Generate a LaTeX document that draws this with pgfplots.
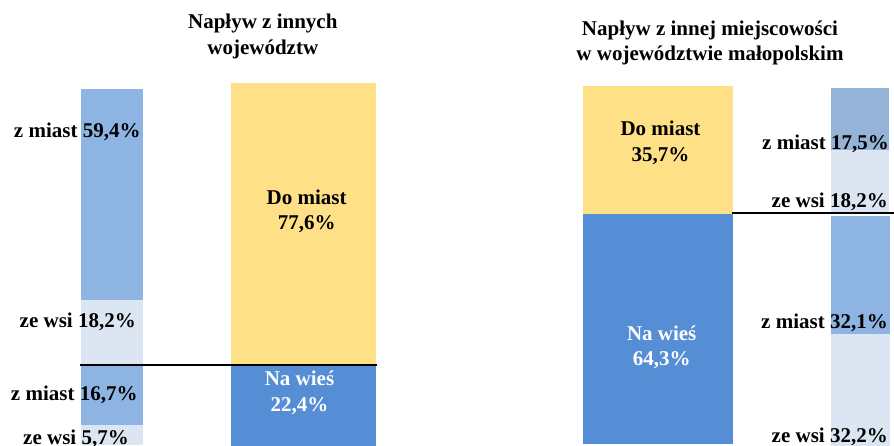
\documentclass[border=0pt]{standalone}
\usepackage{pgfplots}
\pgfplotsset{compat=1.18}
\usepackage{fontspec}
\setmainfont{Liberation Serif}

\definecolor{zolty}{HTML}{FEE086}
\definecolor{niebieski}{HTML}{558ED5}
\definecolor{zmiast}{HTML}{8EB4E3}
\definecolor{zmiastb}{HTML}{95B3D7}
\definecolor{zewsi}{HTML}{DCE6F2}

\pgfplotsset{
  slupek/.style={
    scale only axis, axis lines=none, ticks=none,
    anchor=south west, xmin=-0.5, xmax=0.5, ymin=0, ymax=100,
    ybar stacked, bar shift=0pt,
    every axis plot/.append style={draw=none},
  },
}

\begin{document}
\begin{tikzpicture}[x=1pt,y=1pt,
    lab/.style={inner sep=0pt, font=\bfseries\fontsize{21}{26}\selectfont}]

% lewy waski slupek: struktura naplywu z innych wojewodztw
\begin{axis}[slupek, at={(81pt,0pt)}, width=62pt, height=356pt, bar width=62pt]
  \addplot[fill=zewsi]  coordinates {(0,5.7)};
  \addplot[fill=zmiast] coordinates {(0,16.7)};
  \addplot[fill=zewsi]  coordinates {(0,18.2)};
  \addplot[fill=zmiast] coordinates {(0,59.4)};
\end{axis}

% lewy glowny slupek
\begin{axis}[slupek, at={(231pt,-1.8pt)}, width=145pt, height=363.8pt, bar width=145pt]
  \addplot[fill=niebieski] coordinates {(0,22.4)};
  \addplot[fill=zolty]     coordinates {(0,77.6)};
\end{axis}

% prawy glowny slupek
\begin{axis}[slupek, at={(583pt,0.7pt)}, width=150pt, height=358.6pt, bar width=150pt]
  \addplot[fill=niebieski] coordinates {(0,64.3)};
  \addplot[fill=zolty]     coordinates {(0,35.7)};
\end{axis}

% prawy waski slupek - gorna czesc (do miast)
\begin{axis}[slupek, ymax=35.7, at={(831pt,231.3pt)}, width=58pt, height=125.7pt, bar width=58pt]
  \addplot[fill=zewsi]   coordinates {(0,18.2)};
  \addplot[fill=zmiastb] coordinates {(0,17.5)};
\end{axis}

% prawy waski slupek - dolna czesc (na wies)
\begin{axis}[slupek, ymax=64.3, at={(831pt,-7.4pt)}, width=59pt, height=236.4pt, bar width=59pt]
  \addplot[fill=zewsi]  coordinates {(0,32.2)};
  \addplot[fill=zmiast] coordinates {(0,32.1)};
\end{axis}

\draw[line width=2pt] (80,79.7) -- (377,79.7);
\draw[line width=2pt] (732,231.5) -- (894,231.5);

% tytuly
\node[lab, anchor=base] at (262.8,416.7) {Napływ z innych};
\node[lab, anchor=base] at (262.8,390.7) {województw};
\node[lab, anchor=base] at (710,409) {Napływ z innej miejscowości};
\node[lab, anchor=base] at (710,384) {w województwie małopolskim};

% etykiety lewego waskiego slupka
\node[lab, anchor=base east] at (140.7,307.7) {z miast 59,4\%};
\node[lab, anchor=base east] at (136,117.3) {ze wsi 18,2\%};
\node[lab, anchor=base east] at (137.7,44.3) {z miast 16,7\%};
\node[lab, anchor=base east] at (129,1) {ze wsi 5,7\%};

% etykiety prawego waskiego slupka
\node[lab, anchor=base east] at (889,295) {z miast 17,5\%};
\node[lab, anchor=base east] at (888,237.3) {ze wsi 18,2\%};
\node[lab, anchor=base east] at (888,116.7) {z miast 32,1\%};
\node[lab, anchor=base east] at (888,2.3) {ze wsi 32,2\%};

% etykiety glownych slupkow
\node[lab, anchor=base] at (306.7,240) {Do miast};
\node[lab, anchor=base] at (306.7,215) {77,6\%};
\node[lab, anchor=base, text=white] at (299.5,60) {Na wieś};
\node[lab, anchor=base, text=white] at (299.5,33.3) {22,4\%};
\node[lab, anchor=base] at (660.5,309) {Do miast};
\node[lab, anchor=base] at (660.5,283.3) {35,7\%};
\node[lab, anchor=base, text=white] at (661.7,104.3) {Na wieś};
\node[lab, anchor=base, text=white] at (661.7,80) {64,3\%};

\pgfresetboundingbox
\path[use as bounding box] (0,0) rectangle (894,445);
\end{tikzpicture}
\end{document}
